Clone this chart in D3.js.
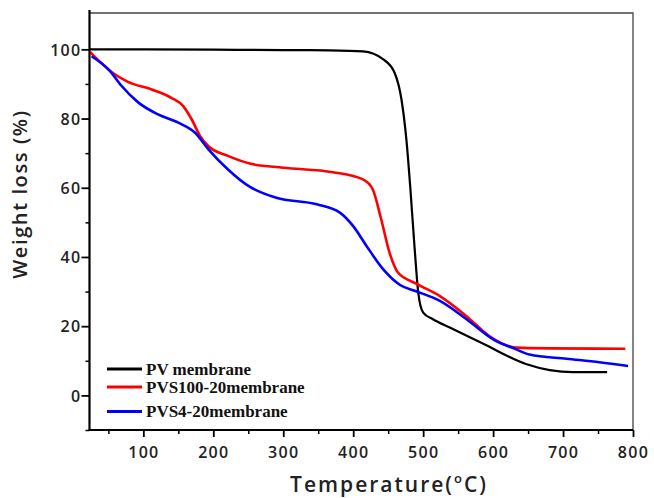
<!DOCTYPE html>
<html>
<head>
<meta charset="utf-8">
<script src="https://cdn.jsdelivr.net/npm/d3@7"></script>
<style>
  body { margin: 0; background: #fff; }
  svg { display: block; }
  .axis text { font-family: "Open Sans", sans-serif; font-weight: 600; font-size: 16px; letter-spacing: 1.3px; fill: #222; }
</style>
</head>
<body>
<svg width="654" height="498"></svg>
<script>
// PV membrane
const pvTemp = [23, 100, 200, 300, 366, 414, 443, 459, 469, 476, 482, 488, 493, 500, 514, 538, 586, 648, 681, 714, 763];
const pvWeight = [100, 100, 99.9, 99.8, 99.7, 99.4, 97.1, 93.3, 85.5, 74, 59, 42, 29.7, 23.9, 22, 19.6, 14.9, 9.0, 7.3, 6.7, 6.7];

// PVS100-20 membrane
const pvs100Temp = [24, 55, 78, 112, 140, 157, 169, 181, 193, 221, 252, 300, 371, 414, 428, 440, 452, 464, 490, 524, 562, 595, 633, 681, 789];
const pvs100Weight = [99.2, 93.4, 90.6, 88.4, 86, 83.6, 79.8, 75, 72, 69.2, 67, 65.8, 64.5, 62.4, 59.5, 50.9, 41.2, 35.5, 32.3, 28.7, 22.9, 17.1, 13.8, 13.6, 13.5];

// PVS4-20 membrane
const pvs4Temp = [26, 52, 69, 93, 121, 150, 174, 193, 221, 252, 290, 348, 381, 400, 419, 443, 467, 490, 524, 562, 600, 633, 652, 705, 752, 793];
const pvs4Weight = [98, 93.8, 89.4, 84.6, 81.2, 78.8, 75.9, 71.1, 65.3, 60.3, 57.1, 55.2, 52.8, 48.9, 43.2, 36.4, 31.9, 30.1, 27.3, 22, 16.2, 13.3, 11.8, 10.6, 9.6, 8.5];

const seriesNames = ["PV membrane", "PVS100-20membrane", "PVS4-20membrane"];
const seriesColors = ["#000000", "#ff0000", "#0000ff"];

const xTicks = [100, 200, 300, 400, 500, 600, 700, 800];
const xMinorTicks = [50, 150, 250, 350, 450, 550, 650, 750];
const yTicks = [0, 20, 40, 60, 80, 100];
const yMinorTicks = [-10, 10, 30, 50, 70, 90];

const svg = d3.select("svg");
const plotLeft = 89.5, plotRight = 633, plotTop = 13, plotBottom = 430;

const xScale = d3.scaleLinear().domain([23, 800]).range([plotLeft, plotRight]);
const yScale = d3.scaleLinear().domain([-10, 110.5]).range([plotBottom, plotTop]);

const series = [
  { name: seriesNames[0], color: seriesColors[0], width: 2.2, values: pvTemp.map((t, i) => ({ t, w: pvWeight[i] })) },
  { name: seriesNames[1], color: seriesColors[1], width: 2.6, values: pvs100Temp.map((t, i) => ({ t, w: pvs100Weight[i] })) },
  { name: seriesNames[2], color: seriesColors[2], width: 2.6, values: pvs4Temp.map((t, i) => ({ t, w: pvs4Weight[i] })) }
];

// top / right frame (thin)
svg.append("path")
  .attr("d", `M${plotLeft},${plotTop}H${plotRight}V${plotBottom}`)
  .attr("fill", "none")
  .attr("stroke", "#444")
  .attr("stroke-width", 1.3);

const line = d3.line()
  .x((d) => xScale(d.t))
  .y((d) => yScale(d.w))
  .curve(d3.curveMonotoneX);

svg.selectAll(".line")
  .data(series)
  .enter()
  .append("path")
  .attr("class", "line")
  .attr("d", (d) => line(d.values))
  .attr("fill", "none")
  .attr("stroke", (d) => d.color)
  .attr("stroke-width", (d) => d.width)
  .attr("stroke-linejoin", "round");

// x axis
const xAxisG = svg.append("g")
  .attr("class", "axis")
  .attr("transform", `translate(0, ${plotBottom})`)
  .call(d3.axisBottom(xScale).tickValues(xTicks).tickSize(7).tickPadding(10));
xAxisG.select(".domain").attr("stroke-width", 2.2).attr("d", `M${plotLeft - 1},0H${plotRight}`);
xAxisG.selectAll(".tick line").attr("stroke-width", 1.8);

svg.append("g")
  .attr("transform", `translate(0, ${plotBottom})`)
  .call(d3.axisBottom(xScale).tickValues(xMinorTicks).tickSize(4).tickFormat(""))
  .call((g) => g.select(".domain").remove())
  .selectAll(".tick line").attr("stroke-width", 1.5);

// y axis
const yAxisG = svg.append("g")
  .attr("class", "axis")
  .attr("transform", `translate(${plotLeft}, 0)`)
  .call(d3.axisLeft(yScale).tickValues(yTicks).tickSize(8).tickPadding(0));
yAxisG.select(".domain").attr("stroke-width", 2.2).attr("d", `M0,${plotBottom + 1}V${plotTop - 3}`);
yAxisG.selectAll(".tick line").attr("stroke-width", 1.8);
yAxisG.selectAll(".tick text").attr("dy", "0.36em");

svg.append("g")
  .attr("transform", `translate(${plotLeft}, 0)`)
  .call(d3.axisLeft(yScale).tickValues(yMinorTicks).tickSize(4).tickFormat(""))
  .call((g) => g.select(".domain").remove())
  .selectAll(".tick line").attr("stroke-width", 1.5);

// axis labels
svg.append("text")
  .attr("transform", `translate(27, 194) rotate(-90)`)
  .attr("text-anchor", "middle")
  .style("font-family", "'Open Sans', sans-serif")
  .style("font-weight", 600)
  .style("font-size", "20px")
  .style("letter-spacing", "1.6px")
  .attr("fill", "#222")
  .text("Weight loss (%)");

const xLabel = svg.append("text")
  .attr("x", 389)
  .attr("y", 492)
  .attr("text-anchor", "middle")
  .style("font-family", "'Open Sans', sans-serif")
  .style("font-weight", 600)
  .style("font-size", "21px")
  .style("letter-spacing", "2px")
  .attr("fill", "#222");
xLabel.append("tspan").text("Temperature(");
xLabel.append("tspan").attr("dy", -9).style("font-size", "13px").text("o");
xLabel.append("tspan").attr("dy", 9).text("C)");

// legend
const legendY = [369, 387, 411.5];
const legend = svg.selectAll("g.legend")
  .data(series)
  .enter()
  .append("g")
  .attr("class", "legend")
  .attr("transform", (d, i) => `translate(0, ${legendY[i]})`);

legend.append("line")
  .attr("x1", 107)
  .attr("x2", 142)
  .attr("stroke", (d) => d.color)
  .attr("stroke-width", 3);

legend.append("text")
  .attr("x", 146)
  .attr("y", 5.5)
  .style("font-family", "'Liberation Serif', 'Times New Roman', serif")
  .style("font-weight", "bold")
  .style("font-size", "17px")
  .attr("fill", "#111")
  .text((d) => d.name);
</script>
</body>
</html>
